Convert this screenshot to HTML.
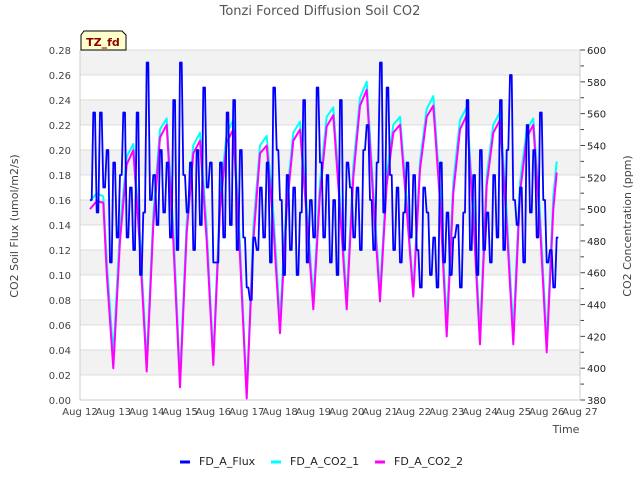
<!DOCTYPE html>
<html><head><meta charset="utf-8"><style>
body{margin:0;background:#fff;font-family:"Liberation Sans","DejaVu Sans",sans-serif}
svg text{font-family:"DejaVu Sans","Liberation Sans",sans-serif}
</style></head><body>
<svg id="chart" width="640" height="480" viewBox="0 0 640 480">
<text x="320" y="15" text-anchor="middle" font-size="13" fill="#555">Tonzi Forced Diffusion Soil CO2</text>
<g id="bands"></g>
<g id="axes"></g>
<g id="series"></g>
<g>
<path d="M84,31 H122 L126,35 V50 H81 V35 Z" fill="#ffffcc" stroke="#000" stroke-width="1"/>
<text x="103" y="46" text-anchor="middle" font-size="11" font-weight="bold" fill="#8b0000">TZ_fd</text>
</g>
<text x="566" y="433" text-anchor="middle" font-size="11" fill="#444">Time</text>
<text transform="translate(18,226) rotate(-90)" text-anchor="middle" font-size="11" fill="#444">CO2 Soil Flux (umol/m2/s)</text>
<text transform="translate(631,226) rotate(-90)" text-anchor="middle" font-size="11" fill="#444">CO2 Concentration (ppm)</text>
<g>
<g><line x1="180" y1="462" x2="190" y2="462" stroke="#0000ff" stroke-width="3"/><text x="199" y="465" font-size="11" fill="#222">FD_A_Flux</text></g>
<g><line x1="271" y1="462" x2="281" y2="462" stroke="#00ffff" stroke-width="3"/><text x="290" y="465" font-size="11" fill="#222">FD_A_CO2_1</text></g>
<g><line x1="375" y1="462" x2="385" y2="462" stroke="#ff00ff" stroke-width="3"/><text x="394" y="465" font-size="11" fill="#222">FD_A_CO2_2</text></g>
</g>
</svg>
<script>
const xTickLabels=["Aug 12","Aug 13","Aug 14","Aug 15","Aug 16","Aug 17","Aug 18","Aug 19","Aug 20","Aug 21","Aug 22","Aug 23","Aug 24","Aug 25","Aug 26","Aug 27"];
const leftTicks=[0,0.02,0.04,0.06,0.08,0.10,0.12,0.14,0.16,0.18,0.20,0.22,0.24,0.26,0.28];
const rightTicks=[380,400,420,440,460,480,500,520,540,560,580,600];
const fluxStart=0.3, fluxStep=0.1;
const fluxValues=[.16,.23,.15,.23,.17,.20,.11,.19,.13,.18,
.23,.13,.17,.12,.23,.10,.15,.27,.16,.18,
.14,.20,.15,.19,.13,.24,.12,.27,.18,.15,
.19,.12,.20,.14,.25,.17,.19,.11,.11,.19,
.13,.23,.14,.24,.12,.20,.13,.09,.08,.13,
.12,.17,.13,.19,.11,.25,.20,.16,.10,.18,
.12,.17,.10,.15,.24,.11,.16,.13,.25,.19,
.13,.18,.11,.16,.10,.24,.12,.19,.17,.13,
.17,.12,.20,.22,.16,.12,.19,.27,.15,.25,
.18,.12,.17,.11,.15,.19,.13,.18,.12,.09,
.17,.15,.10,.13,.09,.19,.11,.15,.10,.13,
.14,.09,.15,.24,.12,.18,.10,.20,.12,.15,
.11,.18,.13,.24,.12,.20,.26,.16,.14,.17,
.11,.22,.15,.20,.13,.23,.16,.11,.12,.09,
.13];
const co2Times=[0.3,0.5,0.7,0.8,1.0,1.2,1.4,1.6,1.8,2.0,2.2,2.4,2.6,2.8,3.0,3.2,3.4,3.6,3.8,4.0,4.2,4.4,4.6,4.8,5.0,5.2,5.4,5.6,5.8,6.0,6.2,6.4,6.6,6.8,7.0,7.2,7.4,7.6,7.8,8.0,8.2,8.4,8.6,8.8,9.0,9.2,9.4,9.6,9.8,10.0,10.2,10.4,10.6,10.8,11.0,11.2,11.4,11.6,11.8,12.0,12.2,12.4,12.6,12.8,13.0,13.2,13.4,13.6,13.8,14.0,14.2,14.3];
const co2_2=[500,505,504,460,400,480,528,537,475,398,490,545,553,480,388,485,535,543,480,402,500,542,550,470,381,480,535,540,490,422,500,543,550,495,437,510,552,559,500,437,520,565,575,505,442,515,548,553,500,445,525,558,565,505,420,510,550,559,495,415,515,548,556,490,415,510,545,553,490,410,500,523];
const co2_1=[505,510,508,468,408,488,533,541,482,404,497,550,557,488,394,492,540,548,488,406,507,548,556,478,384,488,540,546,498,430,507,548,555,502,443,517,558,564,507,443,527,570,580,512,448,521,553,558,506,448,530,563,571,512,428,517,556,564,502,422,521,553,561,498,422,517,550,557,498,416,508,530];
const ns="http://www.w3.org/2000/svg";
const X0=80,X1=580,Y0=400,Y1=50;
function xScale(t){return X0+(X1-X0)*t/15;}
function yLeft(v){return Y0-(Y0-Y1)*v/0.28;}
function yRight(v){return Y0-(Y0-Y1)*(v-380)/220;}
function mk(tag,attrs,parent){const e=document.createElementNS(ns,tag);for(const k in attrs)e.setAttribute(k,attrs[k]);parent.appendChild(e);return e;}
const bands=document.getElementById('bands'),axes=document.getElementById('axes'),series=document.getElementById('series');
for(let i=0;i<leftTicks.length-1;i++){
  const top=yLeft(leftTicks[i+1]),bot=yLeft(leftTicks[i]);
  const idx=leftTicks.length-2-i;
  const r=mk('rect',{x:X0,y:top,width:X1-X0,height:bot-top,fill:idx%2===0?'#f2f2f2':'#ffffff'},bands);
  
  
}
leftTicks.forEach(v=>{
  const y=yLeft(v);
  const g=mk('line',{x1:X0,x2:X1,y1:y,y2:y,stroke:'#dcdcdc','stroke-width':1},bands);
  
  
  const t=mk('text',{x:71,y:y+4,'text-anchor':'end','font-size':10,fill:'#444'},axes);
  t.textContent=v.toFixed(2);
  
  
});
rightTicks.forEach(v=>{
  const y=yRight(v);
  const t=mk('text',{x:587,y:y+4,'font-size':10,fill:'#222'},axes);
  t.textContent=v;
  
  
});
for(let v=390;v<600;v+=20){const y=yRight(v);const l=mk('line',{x1:X1,x2:X1+4,y1:y,y2:y,stroke:'#444'},axes);}
rightTicks.forEach(v=>{const y=yRight(v);const l=mk('line',{x1:X1,x2:X1+5,y1:y,y2:y,stroke:'#444'},axes);});
xTickLabels.forEach((s,i)=>{
  const t=mk('text',{x:xScale(i),y:415,'text-anchor':'middle','font-size':10,fill:'#444'},axes);
  t.textContent=s;
  
  
});
const ax=mk('path',{d:`M${X0},${Y1} V${Y0} H${X1} V${Y1}`,fill:'none',stroke:'#ccc'},axes);


function line(pts,color,name,w){
  const p=mk('polyline',{points:pts.map(q=>q[0].toFixed(1)+','+q[1].toFixed(1)).join(' '),fill:'none',stroke:color,'stroke-width':w,'stroke-linejoin':'round'},series);
  
  
}
line(co2Times.map((t,i)=>[xScale(t),yRight(co2_1[i])]),'#00ffff','series-fd-a-co2-1',2);
line(co2Times.map((t,i)=>[xScale(t),yRight(co2_2[i])]),'#ff00ff','series-fd-a-co2-2',2);
const fp=[];
fluxValues.forEach((v,i)=>{const t=fluxStart+i*fluxStep;fp.push([xScale(t),yLeft(v)]);fp.push([xScale(t+fluxStep*0.5),yLeft(v)]);});
line(fp,'#0000ff','series-fd-a-flux',1.8);
</script>
</body></html>
